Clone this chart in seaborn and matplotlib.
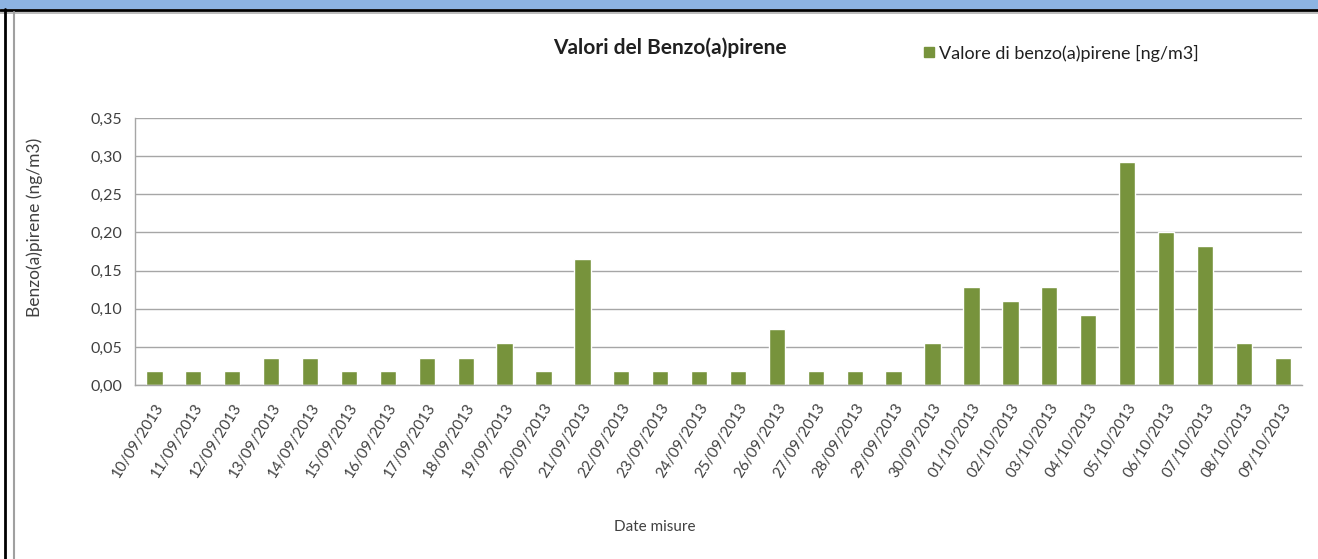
import matplotlib
matplotlib.use("Agg")
import matplotlib.pyplot as plt
import pandas as pd
import seaborn as sns
from matplotlib.lines import Line2D
from matplotlib.patches import Rectangle

# Data
dates = ["10/09/2013", "11/09/2013", "12/09/2013", "13/09/2013", "14/09/2013",
         "15/09/2013", "16/09/2013", "17/09/2013", "18/09/2013", "19/09/2013",
         "20/09/2013", "21/09/2013", "22/09/2013", "23/09/2013", "24/09/2013",
         "25/09/2013", "26/09/2013", "27/09/2013", "28/09/2013", "29/09/2013",
         "30/09/2013", "01/10/2013", "02/10/2013", "03/10/2013", "04/10/2013",
         "05/10/2013", "06/10/2013", "07/10/2013", "08/10/2013", "09/10/2013"]
values = [0.019, 0.019, 0.019, 0.036, 0.036, 0.019, 0.019, 0.036, 0.036, 0.055,
          0.019, 0.165, 0.019, 0.019, 0.019, 0.019, 0.073, 0.019, 0.019, 0.019,
          0.055, 0.128, 0.110, 0.128, 0.092, 0.292, 0.200, 0.182, 0.055, 0.036]
y_ticks = [0.00, 0.05, 0.10, 0.15, 0.20, 0.25, 0.30, 0.35]
y_tick_labels = ["0,00", "0,05", "0,10", "0,15", "0,20", "0,25", "0,30", "0,35"]

df = pd.DataFrame({"data": dates, "valore": values})

sns.set_style("white")
plt.rcParams["font.family"] = ["Lato", "DejaVu Sans"]

green = "#77933C"
grid_col = "#A6A6A6"

fig = plt.figure(figsize=(13.18, 5.59), dpi=100)
ax = fig.add_axes([0.1024, 0.311, 0.8856, 0.478])

sns.barplot(data=df, x="data", y="valore", color=green, width=0.42,
            saturation=1, ax=ax)

ax.set_ylim(0, 0.35)
ax.set_xlim(-0.5, len(dates) - 0.5)
ax.set_yticks(y_ticks)
ax.set_yticklabels(y_tick_labels, fontsize=11.5, color="#404040")
ax.set_xticks(range(len(dates)))
ax.set_xticklabels(dates, rotation=58, ha="right", rotation_mode="anchor",
                   fontsize=11, color="#404040")
ax.set_xticks([i - 0.5 for i in range(len(dates) + 1)], minor=True)
ax.tick_params(axis="x", which="major", length=0, pad=11)
ax.tick_params(axis="x", which="minor", length=5, color=grid_col, width=1)
ax.tick_params(axis="y", which="major", length=5, color=grid_col, width=1, pad=4)
ax.yaxis.grid(True, color=grid_col, linewidth=1)
ax.set_axisbelow(True)
for side in ["top", "right"]:
    ax.spines[side].set_visible(False)
for side in ["left", "bottom"]:
    ax.spines[side].set_color(grid_col)
    ax.spines[side].set_linewidth(1)

ax.set_xlabel("Date misure", fontsize=11, color="#404040", labelpad=0)
ax.xaxis.set_label_coords(0.445, -0.505)
ax.set_ylabel("Benzo(a)pirene (ng/m3)", fontsize=12.5, color="#404040")
ax.yaxis.set_label_coords(-0.079, 0.59)

fig.text(0.508, 0.915, "Valori del Benzo(a)pirene", ha="center", va="center",
         fontsize=15, fontweight="bold", color="#202020")

handle = Line2D([], [], marker="s", linestyle="none", markersize=7,
                markerfacecolor=green, markeredgecolor=green)
fig.legend([handle], ["Valore di benzo(a)pirene [ng/m3]"], loc="center left",
           bbox_to_anchor=(0.684, 0.905), frameon=False, fontsize=13,
           handletextpad=0.0, handlelength=1.2, labelcolor="#202020")

# Frame around the picture
fig.patches.append(Rectangle((0, 1 - 9 / 559), 1, 9 / 559, transform=fig.transFigure,
                             facecolor="#8DB4E2", edgecolor="none", zorder=0))
fig.lines.append(Line2D([0, 1], [1 - 10 / 559, 1 - 10 / 559], transform=fig.transFigure,
                        color="black", linewidth=2))
fig.lines.append(Line2D([0, 1], [1 - 12.5 / 559, 1 - 12.5 / 559], transform=fig.transFigure,
                        color="#B0B0B0", linewidth=1.2))
fig.lines.append(Line2D([4.5 / 1318, 4.5 / 1318], [0, 1 - 9 / 559], transform=fig.transFigure,
                        color="black", linewidth=2))
fig.lines.append(Line2D([14 / 1318, 14 / 1318], [0, 1 - 12 / 559], transform=fig.transFigure,
                        color="#A0A0A0", linewidth=1.5))

fig.savefig("out.png", dpi=100)
